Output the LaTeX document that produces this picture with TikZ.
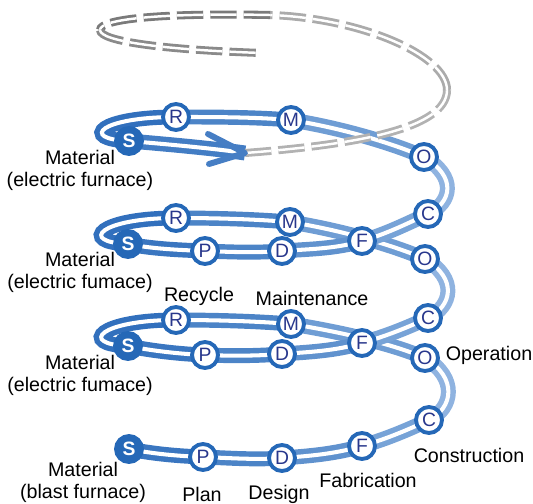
\documentclass[tikz,border=0pt]{standalone}
\usepackage{fontspec}
\setmainfont{Liberation Sans}
\usetikzlibrary{positioning,backgrounds}
\definecolor{ringblue}{RGB}{37,104,183}
\definecolor{lettblue}{RGB}{40,55,140}
\definecolor{loopdark}{RGB}{44,108,187}
\definecolor{looplight}{RGB}{160,192,230}

\begin{document}
\begin{tikzpicture}[x=0.02cm, y=-0.02cm,
  stage/.style={circle, draw=ringblue, line width=2.2pt, fill=white,
                minimum size=0.52cm, inner sep=0pt, text=lettblue,
                font=\fontsize{11}{11}\selectfont},
  origin/.style={stage, fill=ringblue, text=white,
                 font=\fontsize{11}{11}\selectfont\bfseries},
  tag/.style={font=\fontsize{11.2}{12.5}\selectfont, align=center, inner sep=0pt},
  seg/.style={draw=loopdark!#1!looplight, line width=3.1pt,
              double=white, double distance=2.3pt},
  ghost/.style={draw=black!#1, line width=1.6pt, double=white,
                double distance=1.4pt, dash pattern=on 15pt off 4pt}
]
\useasboundingbox (0,0) rectangle (533,503);

% bottom turn
\node[origin] (S1) at (129,449) {S};
\node[stage] (P1) at (203,457) {P};
\node[stage] (D1) at (282,458) {D};
\node[stage] (F1) at (362,446) {F};
\node[stage] (C1) at (429,420) {C};
\node[stage] (O1) at (425,358) {O};
\node[stage] (M1) at (291,324) {M};
\node[stage] (R1) at (176,320) {R};

% second turn
\node[origin] (S2) at (128,346) {S};
\node[stage] (P2) at (205,355) {P};
\node[stage] (D2) at (282,354) {D};
\node[stage] (F2) at (362,343) {F};
\node[stage] (C2) at (428,318) {C};
\node[stage] (O2) at (425,259) {O};
\node[stage] (M2) at (290,222) {M};
\node[stage] (R2) at (176,218) {R};

% third turn
\node[origin] (S3) at (128,244) {S};
\node[stage] (P3) at (205,251) {P};
\node[stage] (D3) at (282,251) {D};
\node[stage] (F3) at (362,241) {F};
\node[stage] (C3) at (428,214) {C};
\node[stage] (O3) at (424,157) {O};
\node[stage] (M3) at (291,120) {M};
\node[stage] (R3) at (176,117) {R};

% top start and the future
\node[origin] (S4) at (129,141) {S};
\coordinate (tipA) at (245,153);
\coordinate (g1) at (447,90);
\coordinate (g2) at (270,15);
\coordinate (g3) at (100,30);
\coordinate (tailA) at (262,53);

% labels
\node[tag] (matB) at (83,482) {Material\\(blast furnace)};
\node[tag] (planL) at (202,494) {Plan};
\node[tag] (desL) at (279,494) {Design};
\node[tag] (fabL) at (368,480) {Fabrication};
\node[tag] (conL) at (469,455) {Construction};
\node[tag] (opL) at (489,355) {Operation};
\node[tag] (recL) at (199,296) {Recycle};
\node[tag] (mntL) at (312,298) {Maintenance};
\node[tag] (matE1) at (80,375) {Material\\(electric fumace)};
\node[tag] (matE2) at (80,272) {Material\\(electric fumace)};
\node[tag] (matE3) at (80,170) {Material\\(electric furnace)};

\begin{scope}[on background layer]
% bottom turn
\draw[seg=88] (S1.center) .. controls +(25,5) and +(-25,-1) .. (P1.center);
\draw[seg=72] (P1.center) .. controls +(26,1) and +(-26,2) .. (D1.center);
\draw[seg=55] (D1.center) .. controls +(27,-2) and +(-27,8) .. (F1.center);
\draw[seg=35] (F1.center) .. controls +(24,-7) and +(-24,11) .. (C1.center);
\draw[seg=15] (C1.center) .. controls +(24,-12) and +(33,20) .. (O1.center);
\draw[seg=42] (O1.center) .. controls +(-32,-14) and +(50,8) .. (M1.center);
\draw[seg=72] (M1.center) .. controls +(-38,-3) and +(38,0) .. (R1.center);
\draw[seg=95] (R1.center) .. controls +(-76,0) and +(-50,-2) .. (S2.center);
% second turn
\draw[seg=88] (S2.center) .. controls +(25,5) and +(-25,-1) .. (P2.center);
\draw[seg=72] (P2.center) .. controls +(26,1) and +(-26,2) .. (D2.center);
\draw[seg=55] (D2.center) .. controls +(27,-2) and +(-27,8) .. (F2.center);
\draw[seg=35] (F2.center) .. controls +(24,-7) and +(-24,11) .. (C2.center);
\draw[seg=15] (C2.center) .. controls +(24,-12) and +(33,20) .. (O2.center);
\draw[seg=42] (O2.center) .. controls +(-32,-14) and +(50,8) .. (M2.center);
\draw[seg=72] (M2.center) .. controls +(-38,-3) and +(38,0) .. (R2.center);
\draw[seg=95] (R2.center) .. controls +(-76,0) and +(-50,-2) .. (S3.center);
% third turn
\draw[seg=88] (S3.center) .. controls +(25,5) and +(-25,-1) .. (P3.center);
\draw[seg=72] (P3.center) .. controls +(26,1) and +(-26,2) .. (D3.center);
\draw[seg=55] (D3.center) .. controls +(27,-2) and +(-27,8) .. (F3.center);
\draw[seg=35] (F3.center) .. controls +(24,-7) and +(-24,11) .. (C3.center);
\draw[seg=15] (C3.center) .. controls +(24,-12) and +(33,20) .. (O3.center);
\draw[seg=42] (O3.center) .. controls +(-32,-14) and +(50,8) .. (M3.center);
\draw[seg=72] (M3.center) .. controls +(-38,-3) and +(38,0) .. (R3.center);
\draw[seg=95] (R3.center) .. controls +(-76,0) and +(-50,-2) .. (S4.center);
% arrow into the next turn
\draw[seg=80] (S4.center) .. controls +(35,3) and +(-35,-5) .. (tipA);
% dashed next turn
\draw[ghost=30] (tipA) .. controls (350,145) and (447,130) .. (g1);
\draw[ghost=33] (g1) .. controls (447,55) and (360,18) .. (g2);
\draw[ghost=52] (g2) .. controls (170,13) and (100,18) .. (g3);
\draw[ghost=46] (g3) .. controls (100,42) and (170,50) .. (tailA);
\draw[draw=loopdark!78!looplight, line width=3.4pt, line cap=round, line join=round]
  ([shift={(-37,-19)}]tipA) -- (tipA) -- ([shift={(-36,11)}]tipA);
\end{scope}

\end{tikzpicture}
\end{document}
